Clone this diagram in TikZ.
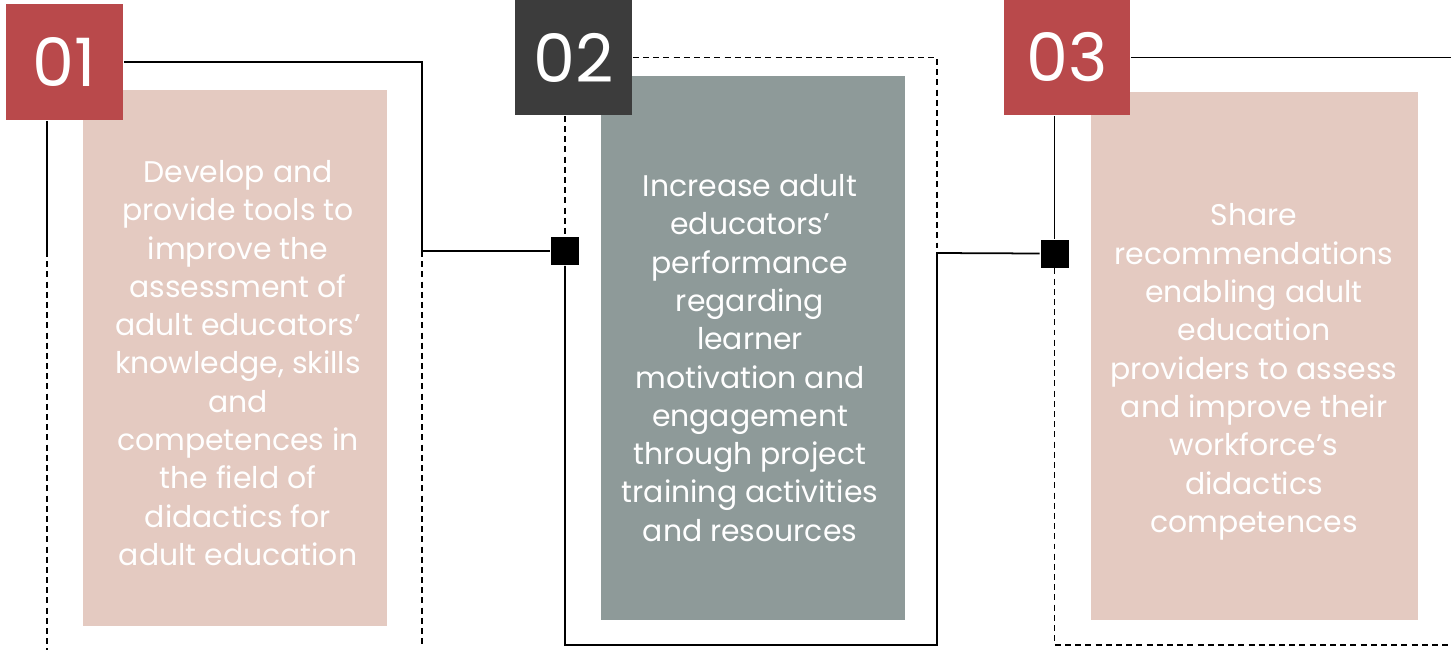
\documentclass[tikz,border=0pt]{standalone}
\usepackage{fontspec}
\setmainfont{Poppins}
\usetikzlibrary{positioning}

\definecolor{badgered}{HTML}{B9494B}
\definecolor{badgedark}{HTML}{3C3C3C}
\definecolor{boxpink}{HTML}{E4CAC1}
\definecolor{boxgray}{HTML}{8E9A99}

\tikzset{
  badge/.style={fill=#1, text=white, inner sep=0pt, font=\fontsize{38}{38}\selectfont},
  panel/.style={fill=#1, inner sep=0pt},
  aim/.style={text=white, align=center, inner sep=0pt, font=\fontsize{17}{21.8}\selectfont},
  joint/.style={fill=black, inner sep=0pt, minimum size=0.56cm},
  dashline/.style={dash pattern=on 3.4pt off 2.4pt}
}

\begin{document}
\begin{tikzpicture}[x=0.02cm, y=-0.02cm, line width=1pt]
\useasboundingbox (0,0) rectangle (1451,650);

% boxes behind
\node (t1) [panel=boxpink, minimum width=6.08cm, minimum height=10.72cm] at (235,358) {};
\node (t2) [panel=boxgray, minimum width=6.08cm, minimum height=10.88cm] at (753,348) {};
\node (t3) [panel=boxpink, minimum width=6.54cm, minimum height=10.56cm] at (1254.5,356) {};

\node (d1) [aim] at (238,363) {Develop and\\provide tools to\\improve the\\assessment of\\adult educators’\\knowledge, skills\\and\\competences in\\the field of\\didactics for\\adult education};
\node (d2) [aim] at (750,358) {Increase adult\\educators’\\performance\\regarding\\learner\\motivation and\\engagement\\through project\\training activities\\and resources};
\node (d3) [aim] at (1254,372) {Share\\recommendations\\enabling adult\\education\\providers to assess\\and improve their\\workforce’s\\didactics\\competences};

% corner points and free ends
\coordinate (c1) at (422,251);
\coordinate (l1) at (47,251);
\coordinate (l1e) at (47,650);
\coordinate (c1e) at (422,645);
\coordinate (c2) at (937,253);
\coordinate (c2b) at (937,645);
\coordinate (r3) at (1451,57.5);
\coordinate (r3b) at (1451,645);

% badges
\node (b1) [badge=badgered, minimum width=2.34cm, minimum height=2.32cm] at (64.5,62) {01};
\node (b2) [badge=badgedark, minimum width=2.34cm, minimum height=2.30cm] at (573.5,57.5) {02};
\node (b3) [badge=badgered, minimum width=2.52cm, minimum height=2.30cm] at (1067,57.5) {03};

% joints
\node (j2) [joint] at (565,251) {};
\node (j3) [joint] at (1054.5,253.5) {};

% panel 1 lines
\draw (b1.east) -| (c1) -- (j2.west);
\draw (b1.south -| l1) -- (l1);
\draw[dashline] (l1) -- (l1e);
\draw[dashline] (c1) -- (c1e);

% panel 2 lines
\draw[dashline] (b2.east) -| (c2);
\draw[dashline] (b2.south -| j2.north) -- (j2.north);
\draw (j2.south) |- (c2b) -- (c2) -- (j3.west);

% panel 3 lines
\draw (b3.east) -- (r3);
\draw (b3.south -| j3.north) -- (j3.north);
\draw[dashline] (j3.south) |- (r3b);
\end{tikzpicture}
\end{document}
